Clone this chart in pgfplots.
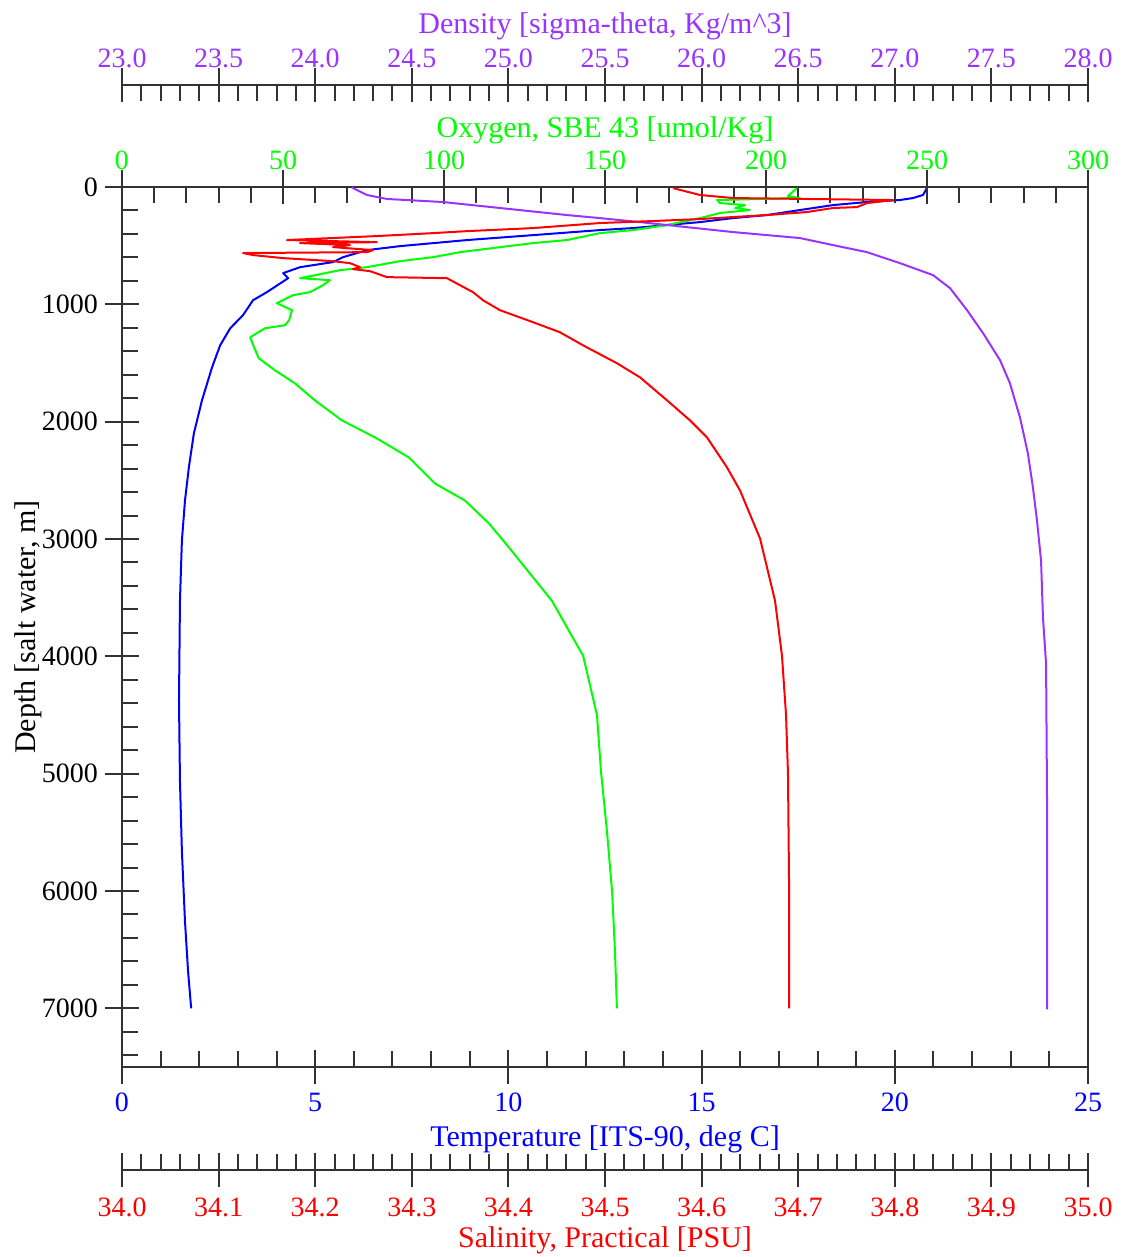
\documentclass[border=0pt]{standalone}
\usepackage{fontspec}
\setmainfont{Liberation Serif}
\usepackage{pgfplots}
\pgfplotsset{compat=1.18}

\definecolor{tempc}{RGB}{0,0,255}
\definecolor{oxyc}{RGB}{0,255,0}
\definecolor{densc}{RGB}{153,51,255}
\definecolor{salc}{RGB}{255,0,0}
\definecolor{axc}{RGB}{50,50,50}

\pgfplotsset{
  ctd/.style={
    scale only axis, width=483pt, height=440pt,
    ymin=0, ymax=7500, y dir=reverse,
    clip=false,
    tick align=center,
    major tick length=17pt,
    minor tick length=8pt,
    axis line style={axc, line width=1pt},
    tick style={axc, line width=1pt},
    tick label style={font=\fontsize{14}{16}\selectfont},
    label style={font=\fontsize{15}{17}\selectfont},
    /pgf/number format/assume math mode=true,
    /pgf/number format/1000 sep={},
    scaled ticks=false,
    minor x tick num=4,
  },
  topx/.style={minor x tick style={yshift=-4pt}, xticklabel style={yshift=-3.5pt}},
  botx/.style={minor x tick style={yshift=4pt}},
  onedec/.style={/pgf/number format/fixed, /pgf/number format/fixed zerofill, /pgf/number format/precision=1},
  curve/.style={line width=1pt, line join=round},
}

\begin{document}
\begin{tikzpicture}
% temperature + depth (main box)
\begin{axis}[ctd, botx,
  xmin=0, xmax=25, xtick={0,5,10,15,20,25},
  xtick pos=left, ytick pos=left,
  ytick={0,1000,...,7000},
  minor ytick={0,200,...,7400},
  minor y tick style={xshift=4pt},
  xticklabel style={tempc, yshift=-1pt},
  xlabel={Temperature [ITS-90, deg C]},
  xlabel style={tempc, at={(axis description cs:0.5,-0.0795)}, anchor=center, yshift=-1pt},
  ylabel={Depth [salt water, m]},
  ylabel style={at={(axis description cs:-0.0975,0.5)}, anchor=center},
]
\addplot[curve, tempc] coordinates {
(20.85,0) (20.83,9) (20.73,68) (20.47,94) (20.13,111) (19.28,128) (18.40,154)
(17.55,196) (16.69,239) (15.81,265) (14.96,299) (14.10,324) (13.22,350)
(12.37,367) (10.64,410) (8.93,452) (7.19,504) (6.34,538) (5.72,598) (5.46,640)
(4.61,683) (4.17,734) (4.30,777) (3.75,896) (3.39,965) (3.13,1093) (2.80,1204)
(2.54,1349) (2.33,1537) (2.07,1818) (1.86,2100) (1.73,2390) (1.63,2672)
(1.55,3014) (1.50,3526) (1.475,4380) (1.50,5062) (1.55,5660) (1.63,6258)
(1.71,6685) (1.79,7000)
};
\end{axis}

% oxygen (top axis)
\begin{axis}[ctd, topx,
  xmin=0, xmax=300, xtick={0,50,...,300},
  axis x line*=top, axis y line=none,
  xticklabel style={oxyc},
  xlabel={Oxygen, SBE 43 [umol/Kg]},
  xlabel style={oxyc, at={(axis description cs:0.5,1.0682)}, anchor=center, yshift=-1.5pt},
]
\addplot[curve, oxyc] coordinates {
(209.6,9) (206.8,77) (210.6,94) (198.1,102) (184.8,111) (185.7,137) (193.5,154)
(190.4,179) (195.0,196) (185.7,222) (179.5,265) (169.3,324) (158.7,367)
(148.4,393) (138.2,452) (127.6,478) (105.0,555) (96.6,598) (86.3,632) (76.1,683)
(67.7,709) (55.3,777) (64.6,794) (62.4,837) (58.4,896) (53.1,922) (48.1,990)
(52.8,1050) (51.9,1135) (50.6,1178) (44.4,1204) (39.8,1281) (41.0,1366)
(42.5,1460) (47.5,1562) (53.7,1673) (59.9,1818) (68.3,1989) (78.6,2134)
(89.1,2305) (97.2,2527) (106.5,2672) (114.0,2868) (120.2,3073) (133.5,3526)
(143.2,3995) (147.5,4499) (148.8,4994) (150.6,5489) (152.2,6002) (153.1,6514)
(153.7,7000)
};
\end{axis}

% density data
\begin{axis}[ctd, hide axis, xmin=23, xmax=28]
\addplot[curve, densc] coordinates {
(24.19,3) (24.196,9) (24.268,68) (24.372,102) (24.661,128) (24.957,179)
(25.303,239) (25.474,265) (25.681,299) (25.821,324) (26.163,384) (26.509,435)
(26.680,495) (26.856,555) (27.027,649) (27.198,751) (27.286,862) (27.374,1050)
(27.457,1246) (27.545,1477) (27.596,1673) (27.648,1964) (27.689,2271)
(27.715,2561) (27.736,2843) (27.757,3184) (27.767,3671) (27.783,4064)
(27.788,5233) (27.788,7009)
};
\end{axis}

% density axis line
\begin{axis}[ctd, topx, at={(0pt,51pt)},
  xmin=23, xmax=28, xtick={23,23.5,24,24.5,25,25.5,26,26.5,27,27.5,28},
  axis x line*=top, axis y line=none,
  xticklabel style={densc, onedec},
  xlabel={Density [sigma-theta, Kg/m\^{}3]},
  xlabel style={densc, at={(axis description cs:0.5,1.0705)}, anchor=center, yshift=-1.5pt},
]
\end{axis}

% salinity data
\begin{axis}[ctd, hide axis, xmin=34, xmax=35]
\addplot[curve, salc] coordinates {
(34.5704,9) (34.5983,68) (34.6325,94) (34.7981,111) (34.7712,137) (34.7609,171)
(34.7360,179) (34.7091,213) (34.6677,239) (34.6325,256) (34.5983,273)
(34.5497,290) (34.4948,307) (34.4255,350) (34.3571,376) (34.3219,393)
(34.2640,418) (34.1708,452) (34.2640,470) (34.1843,478) (34.2360,495)
(34.2184,512) (34.2598,538) (34.2536,555) (34.1253,563) (34.1356,580)
(34.1667,606) (34.2184,632) (34.2360,649) (34.2464,683) (34.2391,700)
(34.2567,717) (34.2743,768) (34.3364,777) (34.3499,837) (34.3634,896)
(34.3737,965) (34.3913,1050) (34.4255,1152) (34.4534,1238) (34.4772,1349)
(34.5124,1502) (34.5362,1622) (34.5642,1818) (34.5880,1989) (34.6056,2134)
(34.6263,2390) (34.6398,2587) (34.6605,2996) (34.6760,3526) (34.6832,3995)
(34.6874,4499) (34.6894,4994) (34.6905,5916) (34.6905,7000)
};
\end{axis}

% salinity axis line
\begin{axis}[ctd, botx, at={(0pt,-51.5pt)},
  xmin=34, xmax=35, xtick={34,34.1,34.2,34.3,34.4,34.5,34.6,34.7,34.8,34.9,35},
  axis x line*=bottom, axis y line=none,
  xticklabel style={salc, onedec, yshift=-2pt},
  xlabel={Salinity, Practical [PSU]},
  xlabel style={salc, at={(axis description cs:0.5,-0.0773)}, anchor=center, yshift=-1pt},
]
\end{axis}

\pgfresetboundingbox
\path[use as bounding box] (-61pt,-95pt) rectangle (500.5pt,533.5pt);
\end{tikzpicture}
\end{document}
